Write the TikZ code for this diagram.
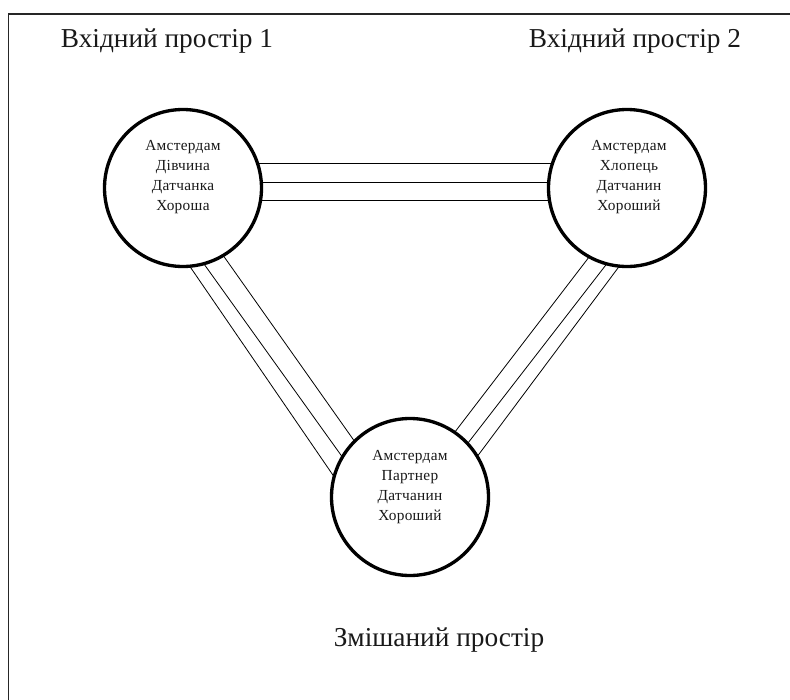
\documentclass[tikz,border=0pt]{standalone}
\usepackage{fontspec}
\setmainfont{Liberation Serif}
\usetikzlibrary{calc,backgrounds}
\begin{document}
\begin{tikzpicture}[x=0.75pt,y=-0.75pt,
  space/.style={circle,draw=black,line width=2.5pt,fill=white,minimum size=117.75pt,inner sep=0pt},
  content/.style={align=center,font=\fontsize{11.5}{15}\selectfont\addfontfeature{LetterSpace=2},text=black!90,inner sep=0pt},
  title/.style={anchor=base,font=\fontsize{20.5}{22}\selectfont,text=black!90,inner sep=0pt},
  link/.style={line width=0.6pt,black}]
\useasboundingbox (0,0) rectangle (790,700);
\draw[line width=0.8pt,black!85] (8.5,700) -- (8.5,14) -- (790,14);
% spaces
\node[space] (c1) at (183,188) {};
\node[space] (c2) at (627,188) {};
\node[space] (c3) at (410,497) {};
% contents
\node[content] (t1) at ($(c1)+(0,-11)$) {Амстердам\\Дівчина\\Датчанка\\Хороша};
\node[content] (t2) at ($(c2)+(2,-11)$) {Амстердам\\Хлопець\\Датчанин\\Хороший};
\node[content] (t3) at ($(c3)+(0,-10)$) {Амстердам\\Партнер\\Датчанин\\Хороший};
% titles
\node[title] (l1) at (167,47) {Вхідний простір 1};
\node[title] (l2) at (635,47) {Вхідний простір 2};
\node[title] (l3) at (439,646) {Змішаний простір};
% connectors
\begin{scope}[on background layer]
\foreach \dy in {-25,-6,12}
  \draw[link] ($(c1)+(0,\dy)$) -- ($(c2)+(0,\dy)$);
\draw[link] ($(c1)+(-38,13)$) -- ($(c3)+(-49,19)$);
\draw[link] ($(c1)+(-22,16)$) -- ($(c3)+(-39,0)$);
\draw[link] ($(c1)+(1,12)$) -- ($(c3)+(-26,-14)$);
\draw[link] ($(c2)+(5,13)$) -- ($(c3)+(15,-26)$);
\draw[link] ($(c2)+(23,20)$) -- ($(c3)+(27,-14)$);
\draw[link] ($(c2)+(38,17)$) -- ($(c3)+(37,0)$);
\end{scope}
\end{tikzpicture}
\end{document}
